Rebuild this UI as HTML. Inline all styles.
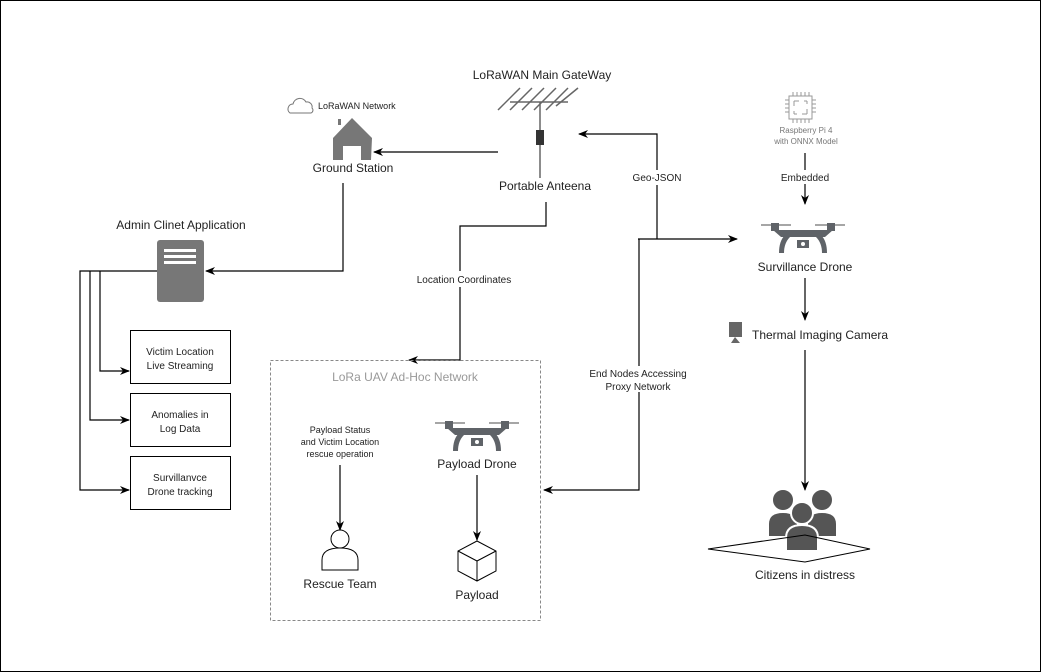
<!DOCTYPE html>
<html><head><meta charset="utf-8"><style>
html,body{margin:0;padding:0;background:#fff}
svg{display:block}
text{font-family:"Liberation Sans",sans-serif;fill:#222}
</style></head><body>
<svg width="1041" height="672" viewBox="0 0 1041 672" xmlns="http://www.w3.org/2000/svg">
<defs>
<marker id="a" markerWidth="10" markerHeight="10" refX="9" refY="5" orient="auto" markerUnits="userSpaceOnUse"><path d="M0,1 L10,5 L0,9 L3,5 Z" fill="#000"/></marker>
<g id="drone">
  <path d="M-42,0 L-12,0 M12,0 L42,0" stroke="#888" stroke-width="1.5"/>
  <rect x="-32" y="-2" width="8" height="8" fill="#5f6368"/>
  <rect x="24" y="-2" width="8" height="8" fill="#5f6368"/>
  <path d="M-30,5 L30,5 L22,12 L-22,12 Z" fill="#5f6368"/>
  <path d="M-18,10 Q-24,16 -24,28 L-19,28 Q-19,18 -13,12 Z" fill="#5f6368"/>
  <path d="M18,10 Q24,16 24,28 L19,28 Q19,18 13,12 Z" fill="#5f6368"/>
  <rect x="-6" y="15" width="12" height="8" fill="#5f6368"/>
  <circle cx="0" cy="19" r="2" fill="#fff"/>
</g>
</defs>
<rect x="0.5" y="0.5" width="1040" height="671" fill="#fff" stroke="#000"/>

<!-- Gateway antenna -->
<text x="542" y="79" font-size="12" text-anchor="middle">LoRaWAN Main GateWay</text>
<g stroke="#666" stroke-width="1.5">
<line x1="498" y1="110" x2="520" y2="88"/><line x1="510" y1="110" x2="532" y2="88"/><line x1="522" y1="110" x2="544" y2="88"/><line x1="534" y1="110" x2="556" y2="88"/><line x1="546" y1="110" x2="568" y2="88"/><line x1="556" y1="106" x2="578" y2="88"/>
<line x1="510" y1="102" x2="568" y2="102"/>
<line x1="540" y1="102" x2="540" y2="178"/>
</g>
<rect x="536" y="130" width="8" height="15" fill="#333"/>
<text x="545" y="190" font-size="12" text-anchor="middle">Portable Anteena</text>

<!-- Ground station -->
<path d="M290,113 a5,5 0 0 1 3,-9 a7,7 0 0 1 13,-2 a5,5 0 0 1 6,6 a3,3 0 0 1 -1,5 Z" fill="none" stroke="#777"/>
<text x="318" y="109" font-size="9">LoRaWAN Network</text>
<rect x="338" y="119" width="3" height="6" fill="#777"/>
<path d="M352,118 L372,138 L371,160 L361,160 L361,146 L343,146 L343,160 L333,160 L333,138 Z" fill="#777"/>
<text x="353" y="172" font-size="12" text-anchor="middle">Ground Station</text>
<line x1="498" y1="152" x2="374" y2="152" stroke="#000" stroke-width="1.2" marker-end="url(#a)"/>

<!-- Admin -->
<text x="181" y="229" font-size="12" text-anchor="middle">Admin Clinet Application</text>
<rect x="157" y="240" width="47" height="62" rx="3" fill="#777"/>
<rect x="164" y="249" width="32" height="3" fill="#fff"/><rect x="164" y="255" width="32" height="3" fill="#fff"/><rect x="164" y="261" width="32" height="3" fill="#fff"/>
<polyline points="343,183 343,271 206,271" fill="none" stroke="#000" stroke-width="1.2" marker-end="url(#a)"/>
<g fill="none" stroke="#000" stroke-width="1.2">
<polyline points="157,271 80,271 80,490 129,490" marker-end="url(#a)"/>
<polyline points="90,271 90,420 129,420" marker-end="url(#a)"/>
<polyline points="100,271 100,371 129,371" marker-end="url(#a)"/>
</g>
<g fill="#fff" stroke="#000"><rect x="130.5" y="330.5" width="100" height="53"/><rect x="130.5" y="393.5" width="100" height="53"/><rect x="130.5" y="456.5" width="100" height="53"/></g>
<g font-size="10" text-anchor="middle">
<text x="180" y="355">Victim Location</text><text x="180" y="369">Live Streaming</text>
<text x="180" y="418">Anomalies in</text><text x="180" y="432">Log Data</text>
<text x="180" y="481">Survillanvce</text><text x="180" y="495">Drone tracking</text>
</g>

<!-- Location coordinates -->
<polyline points="546,202 546,226 460,226 460,360 409,360" fill="none" stroke="#000" stroke-width="1.2" marker-end="url(#a)"/>
<rect x="408" y="271" width="112" height="16" fill="#fff"/>
<text x="464" y="283" font-size="10" text-anchor="middle">Location Coordinates</text>

<!-- Geo-JSON -->
<polyline points="657,239 657,134 579,134" fill="none" stroke="#000" stroke-width="1.2" marker-end="url(#a)"/>
<rect x="628" y="170" width="58" height="15" fill="#fff"/>
<text x="657" y="181" font-size="10" text-anchor="middle">Geo-JSON</text>
<line x1="638" y1="239" x2="737" y2="239" stroke="#000" stroke-width="1.2" marker-end="url(#a)"/>
<polyline points="639,239 639,490 544,490" fill="none" stroke="#000" stroke-width="1.2" marker-end="url(#a)"/>
<rect x="580" y="366" width="115" height="26" fill="#fff"/>
<text x="638" y="377" font-size="10" text-anchor="middle">End Nodes Accessing</text>
<text x="638" y="390" font-size="10" text-anchor="middle">Proxy Network</text>

<!-- Ad-hoc container -->
<rect x="270.5" y="360.5" width="270" height="260" fill="none" stroke="#888" stroke-dasharray="3,2"/>
<text x="405" y="381" font-size="12" text-anchor="middle" style="fill:#999">LoRa UAV Ad-Hoc Network</text>
<g font-size="9" text-anchor="middle"><text x="340" y="433">Payload Status</text><text x="340" y="445">and Victim Location</text><text x="340" y="457">rescue operation</text></g>
<line x1="340" y1="465" x2="340" y2="530" stroke="#000" stroke-width="1.2" marker-end="url(#a)"/>
<circle cx="340" cy="539" r="9" fill="#fff" stroke="#000"/>
<path d="M322,570 L322,560 Q322,548 340,548 Q358,548 358,560 L358,570 Z" fill="#fff" stroke="#000"/>
<text x="340" y="588" font-size="12" text-anchor="middle">Rescue Team</text>
<use href="#drone" x="477" y="423"/>
<text x="477" y="468" font-size="12" text-anchor="middle">Payload Drone</text>
<line x1="477" y1="475" x2="477" y2="540" stroke="#000" stroke-width="1.2" marker-end="url(#a)"/>
<g fill="#fff" stroke="#000"><path d="M477,541 L496,551 L496,571 L477,581 L458,571 L458,551 Z"/><path d="M458,551 L477,561 L496,551 M477,561 L477,581"/></g>
<text x="477" y="599" font-size="12" text-anchor="middle">Payload</text>

<!-- Raspberry Pi -->
<g fill="none" stroke="#999"><rect x="789" y="96" width="23" height="23"/><path d="M794,101 h5 M794,101 v5 M807,101 h-3 M807,101 v3 M794,114 v-3 M794,114 h3 M807,114 h-5 M807,114 v-5"/>
<path d="M793,92 v4 M797,92 v4 M801,92 v4 M805,92 v4 M809,92 v4 M793,119 v4 M797,119 v4 M801,119 v4 M805,119 v4 M809,119 v4 M785,100 h4 M785,104 h4 M785,108 h4 M785,112 h4 M812,100 h4 M812,104 h4 M812,108 h4 M812,112 h4"/></g>
<text x="806" y="133" font-size="8" text-anchor="middle" style="fill:#777">Raspberry Pi 4</text>
<text x="806" y="144" font-size="8" text-anchor="middle" style="fill:#777">with ONNX Model</text>
<line x1="805" y1="153" x2="805" y2="204" stroke="#000" stroke-width="1.2" marker-end="url(#a)"/>
<rect x="776" y="170" width="60" height="14" fill="#fff"/>
<text x="805" y="181" font-size="10" text-anchor="middle">Embedded</text>
<use href="#drone" x="803" y="225"/>
<text x="805" y="271" font-size="12" text-anchor="middle">Survillance Drone</text>
<line x1="805" y1="278" x2="805" y2="320" stroke="#000" stroke-width="1.2" marker-end="url(#a)"/>
<rect x="729" y="322" width="13" height="15" fill="#666"/><path d="M731,343 L735,337 L740,343 Z" fill="#666"/>
<text x="752" y="339" font-size="12">Thermal Imaging Camera</text>
<line x1="805" y1="350" x2="805" y2="490" stroke="#000" stroke-width="1.2" marker-end="url(#a)"/>

<!-- Citizens -->
<g fill="#555" stroke="#fff" stroke-width="2">
<circle cx="783" cy="500" r="11"/><path d="M768,537 L768,524 Q768,512 783,512 Q798,512 798,524 L798,537 Z"/>
<circle cx="822" cy="500" r="11"/><path d="M807,537 L807,524 Q807,512 822,512 Q837,512 837,524 L837,537 Z"/>
<circle cx="802" cy="513" r="11"/><path d="M786,551 L786,538 Q786,525 802,525 Q818,525 818,538 L818,551 Z"/>
</g>
<path d="M708,549 L805,535 L870,549 L805,562 Z" fill="none" stroke="#000"/>
<text x="805" y="579" font-size="12" text-anchor="middle">Citizens in distress</text>
</svg>
</body></html>
